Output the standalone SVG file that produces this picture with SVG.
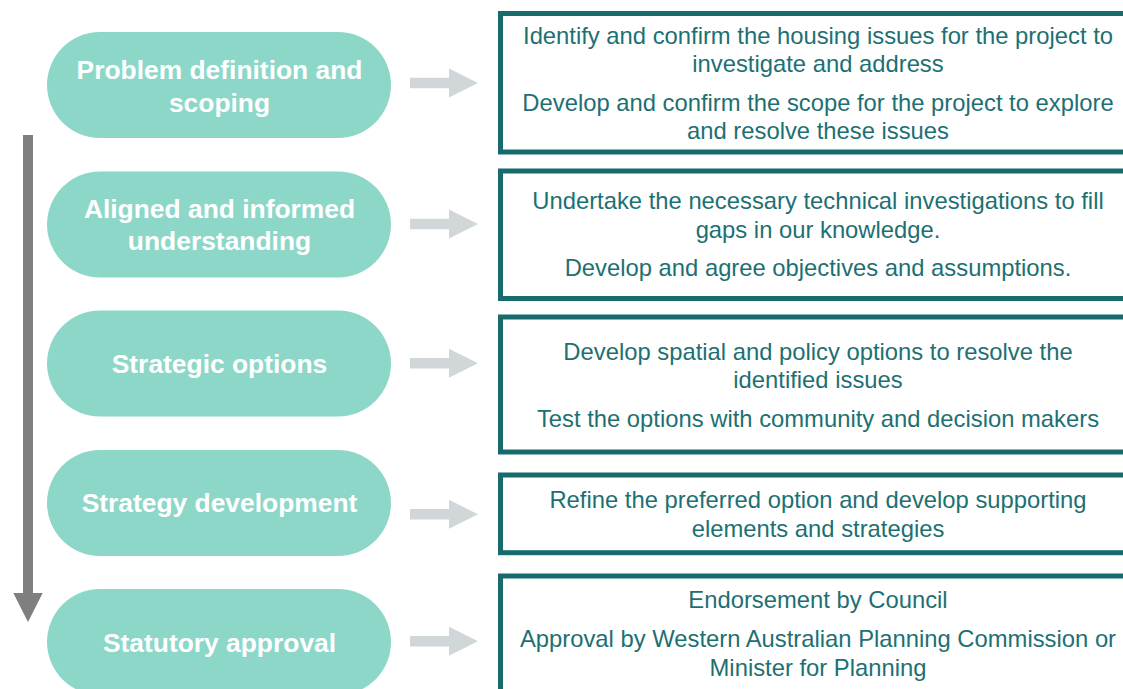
<svg xmlns="http://www.w3.org/2000/svg" width="1123" height="689" viewBox="0 0 1123 689">
<style>
.pill{fill:#8dd7c8}
.pt{font-family:"Liberation Sans",Arial,sans-serif;font-weight:bold;font-size:26.4px;fill:#ffffff;text-anchor:middle}
.box{fill:#ffffff;stroke:#176b6d;stroke-width:5}
.bt{font-family:"Liberation Sans",Arial,sans-serif;font-size:23.8px;fill:#1d7072;text-anchor:middle}
.ga{fill:#d1d6d9}
</style>
<rect width="1123" height="689" fill="#ffffff"/>
<g id="connectors">
<polygon fill="#7f7f7f" points="23,135 33,135 33,593 42.7,593 28,622 13.3,593 23,593"/>
<polygon class="ga" points="410,77.7 449,77.7 449,68.5 478,83 449,97.5 449,88.3 410,88.3"/>
<polygon class="ga" points="410,218.7 449,218.7 449,209.5 478,224 449,238.5 449,229.3 410,229.3"/>
<polygon class="ga" points="410,358 449,358 449,348.8 478,363.3 449,377.8 449,368.6 410,368.6"/>
<polygon class="ga" points="410,509 449,509 449,499.8 478,514.3 449,528.8 449,519.6 410,519.6"/>
<polygon class="ga" points="410,636 449,636 449,626.8 478,641.3 449,655.8 449,646.6 410,646.6"/>
</g>
<g id="step1">
<rect class="pill" x="47" y="32" width="344" height="106" rx="53"/>
<text class="pt" x="219.5" y="79">Problem definition and</text>
<text class="pt" x="219.5" y="111.7">scoping</text>
</g>
<g id="step2">
<rect class="pill" x="47" y="171.5" width="344" height="106" rx="53"/>
<text class="pt" x="219.5" y="218.3">Aligned and informed</text>
<text class="pt" x="219.5" y="250">understanding</text>
</g>
<g id="step3">
<rect class="pill" x="47" y="310.5" width="344" height="106" rx="53"/>
<text class="pt" x="219.5" y="373">Strategic options</text>
</g>
<g id="step4">
<rect class="pill" x="47" y="450" width="344" height="106" rx="53"/>
<text class="pt" x="219.5" y="512">Strategy development</text>
</g>
<g id="step5">
<rect class="pill" x="47" y="589" width="344" height="106" rx="53"/>
<text class="pt" x="219.5" y="651.7">Statutory approval</text>
</g>
<g id="box1">
<rect class="box" x="500.5" y="13.5" width="700" height="138.5"/>
<text class="bt" x="818" y="43.5">Identify and confirm the housing issues for the project to</text>
<text class="bt" x="818" y="72">investigate and address</text>
<text class="bt" x="818" y="110.5">Develop and confirm the scope for the project to explore</text>
<text class="bt" x="818" y="138.5">and resolve these issues</text>
</g>
<g id="box2">
<rect class="box" x="500.5" y="171" width="700" height="127.5"/>
<text class="bt" x="818" y="209">Undertake the necessary technical investigations to fill</text>
<text class="bt" x="818" y="237.5">gaps in our knowledge.</text>
<text class="bt" x="818" y="276">Develop and agree objectives and assumptions.</text>
</g>
<g id="box3">
<rect class="box" x="500.5" y="317" width="700" height="135"/>
<text class="bt" x="818" y="360">Develop spatial and policy options to resolve the</text>
<text class="bt" x="818" y="388.3">identified issues</text>
<text class="bt" x="818" y="426.7">Test the options with community and decision makers</text>
</g>
<g id="box4">
<rect class="box" x="500.5" y="475" width="700" height="77.7"/>
<text class="bt" x="818" y="508.3">Refine the preferred option and develop supporting</text>
<text class="bt" x="818" y="536.7">elements and strategies</text>
</g>
<g id="box5">
<rect class="box" x="500.5" y="576" width="700" height="150"/>
<text class="bt" x="818" y="608.3">Endorsement by Council</text>
<text class="bt" x="818" y="646.7">Approval by Western Australian Planning Commission or</text>
<text class="bt" x="818" y="676">Minister for Planning</text>
</g>
</svg>
